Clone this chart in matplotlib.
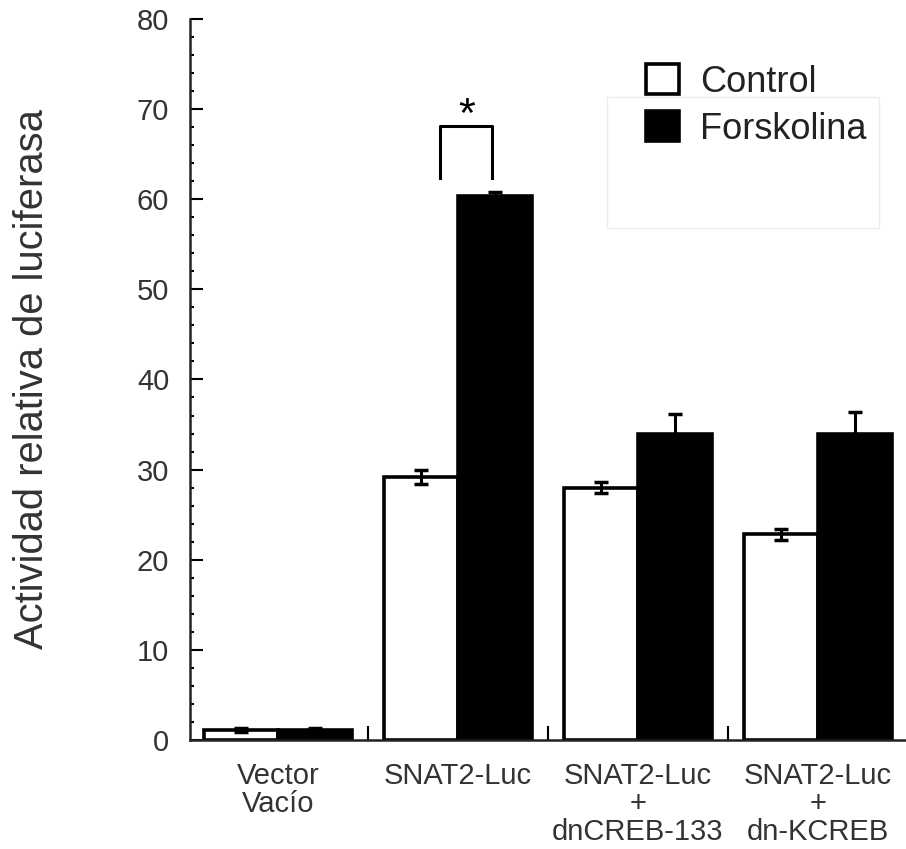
import numpy as np
import matplotlib.pyplot as plt
from matplotlib.ticker import MultipleLocator
from matplotlib.patches import Rectangle

plt.rcParams['font.family'] = ['Liberation Sans', 'DejaVu Sans']

groups = ['Vector\nVacío', 'SNAT2-Luc', 'SNAT2-Luc\n+\ndnCREB-133', 'SNAT2-Luc\n+\ndn-KCREB']
control = [1.1, 29.2, 28.0, 22.8]
control_err = [0.2, 0.8, 0.6, 0.6]
forsk = [1.1, 60.3, 33.9, 33.9]
forsk_err = [0.2, 0.5, 2.3, 2.5]

fig = plt.figure(figsize=(9.06, 8.49), dpi=100)
ax = fig.add_axes([0.2097, 0.1284, 0.7903, 0.8493])

x = np.arange(len(groups))
w = 0.41
ekw = dict(elinewidth=2.2, capthick=2.5, ecolor='black')
b1 = ax.bar(x - w / 2, control, w, color='white', edgecolor='black', linewidth=2.6,
            yerr=control_err, capsize=5, error_kw=ekw, label='Control', zorder=2)
b2 = ax.bar(x + w / 2, forsk, w, color='black', edgecolor='black', linewidth=2.6,
            yerr=forsk_err, capsize=5, error_kw=ekw, label='Forskolina', zorder=2)

ax.set_xlim(-0.49, 3.49)
ax.set_ylim(0, 80)
ax.spines['top'].set_visible(False)
ax.spines['right'].set_visible(False)
for s in ['left', 'bottom']:
    ax.spines[s].set_linewidth(1.8)
    ax.spines[s].set_color('#222222')

ax.yaxis.set_major_locator(MultipleLocator(10))
ax.yaxis.set_minor_locator(MultipleLocator(2))
ax.tick_params(axis='y', which='major', direction='in', length=9, width=1.5,
               labelsize=21, pad=15, labelcolor='#333333')
ax.tick_params(axis='y', which='minor', direction='in', length=3, width=1.5)

ax.set_xticks(x)
ax.set_xticklabels(groups, fontsize=21, color='#333333', linespacing=1.0)
ax.tick_params(axis='x', which='major', length=0, pad=16)
ax.set_xticks([0.5, 1.5, 2.5], minor=True)
ax.tick_params(axis='x', which='minor', direction='in', length=10, width=1.5)

ax.set_ylabel('Actividad relativa de luciferasa', fontsize=28.7, color='#333333', labelpad=62)

# significance bracket
ax.plot([0.90, 0.90, 1.19, 1.19], [62.4, 68.1, 68.1, 62.4], color='black', lw=2.2, clip_on=False)
ax.text(1.05, 69.2, '*', fontsize=31, ha='center', va='center')

# faint box behind legend
ax.add_patch(Rectangle((0.582, 0.710), 0.380, 0.182, transform=ax.transAxes,
                       fill=False, edgecolor='#ececec', lw=1))

leg = ax.legend(handles=[b1, b2], loc='upper left', bbox_to_anchor=(0.637, 0.937),
                frameon=False, fontsize=26, handlelength=0.9, handleheight=0.9,
                handletextpad=0.6, labelspacing=0.32, borderpad=0, borderaxespad=0)
for t in leg.get_texts():
    t.set_color('#222222')

fig.savefig('out.png', dpi=100)
